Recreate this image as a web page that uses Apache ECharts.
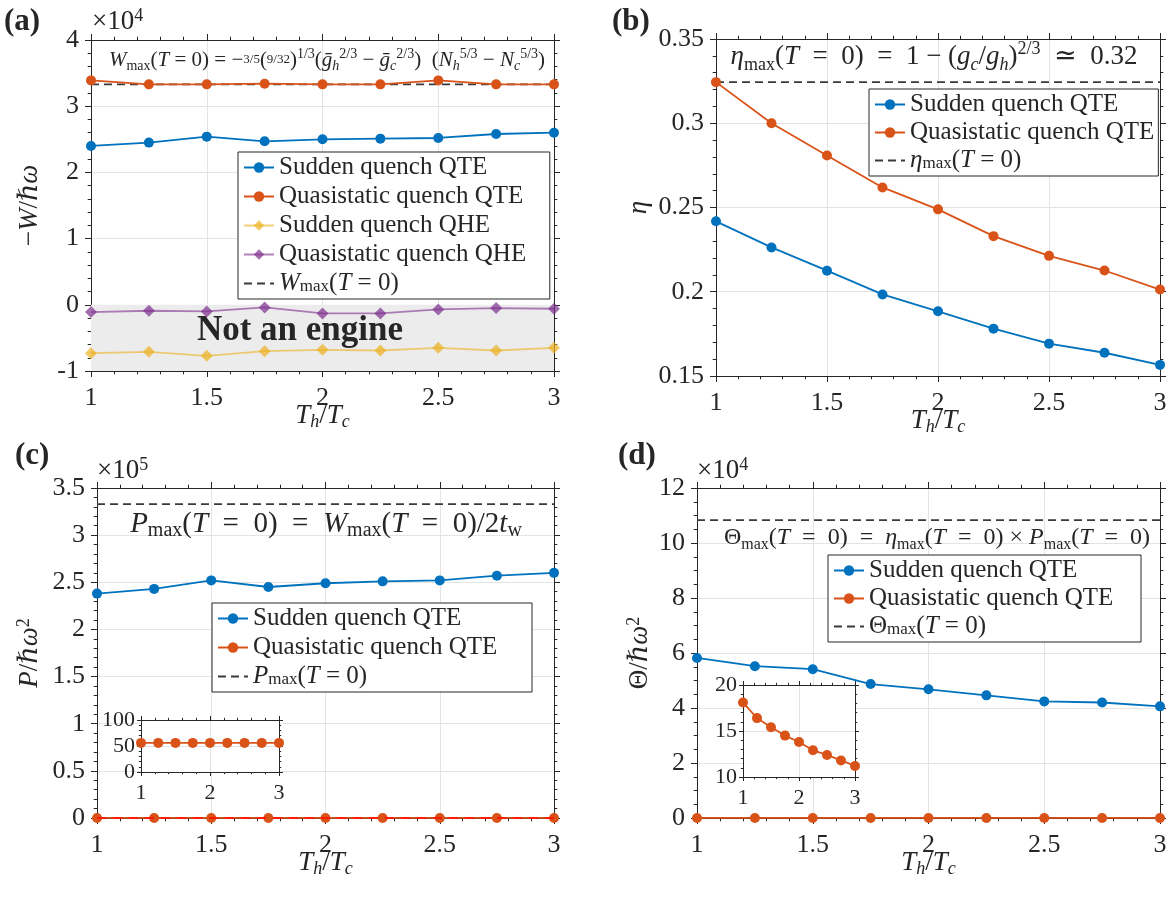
<!DOCTYPE html>
<html><head><meta charset="utf-8">
<script src="https://cdn.jsdelivr.net/npm/echarts@6/dist/echarts.min.js"></script>
<style>html,body{margin:0;padding:0;background:#fff}#c{width:1170px;height:898px}</style>
</head><body><div id="c"></div>
<script>
// ---------------- data ----------------
const xVals = [1, 1.25, 1.5, 1.75, 2, 2.25, 2.5, 2.75, 3];
// (a) -W / ħω  (units of 1e4)
const aSuddenQTE = [2.40, 2.45, 2.54, 2.47, 2.50, 2.51, 2.52, 2.58, 2.60];
const aQuasiQTE  = [3.39, 3.33, 3.33, 3.34, 3.33, 3.33, 3.39, 3.33, 3.33];
const aSuddenQHE = [-0.73, -0.71, -0.77, -0.70, -0.68, -0.69, -0.65, -0.69, -0.65];
const aQuasiQHE  = [-0.11, -0.09, -0.10, -0.04, -0.13, -0.13, -0.07, -0.05, -0.06];
const aWmax = 3.33;
const aEngineBand = [0, -1];
// (b) efficiency
const bSuddenQTE = [0.2418, 0.2263, 0.2125, 0.1984, 0.1884, 0.1781, 0.1692, 0.1638, 0.1566];
const bQuasiQTE  = [0.3244, 0.3000, 0.2809, 0.2619, 0.2489, 0.2330, 0.2213, 0.2126, 0.2013];
const bEtaMax = 0.3244;
// (c) power (main in units of 1e5, quasistatic given in absolute units)
const cSuddenQTE = [2.38, 2.43, 2.52, 2.45, 2.49, 2.51, 2.52, 2.57, 2.60];
const cQuasiQTE  = [56, 56, 56, 56, 56, 56, 56, 56, 56];
const cPmax = 3.33;
const cZeroRef = 0;
// (d) figure of merit (main in units of 1e4, quasistatic given in absolute units)
const dSuddenQTE = [5.82, 5.52, 5.41, 4.87, 4.68, 4.46, 4.24, 4.20, 4.06];
const dQuasiQTE  = [18.1, 16.4, 15.4, 14.5, 13.8, 12.9, 12.4, 11.8, 11.2];
const dThetaMax = 10.83;
// tick settings
const xTicks = {min: 1, max: 3, interval: 0.5};
const aTicks = {min: -1, max: 4, interval: 1};
const bTicks = {min: 0.15, max: 0.35, interval: 0.05};
const cTicks = {min: 0, max: 3.5, interval: 0.5};
const dTicks = {min: 0, max: 12, interval: 2};
const cInsetX = {min: 1, max: 3, interval: 1};
const cInsetY = {min: 0, max: 100, interval: 50};
const dInsetX = {min: 1, max: 3, interval: 1};
const dInsetY = {min: 10, max: 20, interval: 5};

// ---------------- style ----------------
const FONT = '"Liberation Serif", "DejaVu Serif", "Times New Roman", serif';
const AX = '#262626';
const GRIDC = '#e4e4e4';
const BLUE = '#0072BD', ORANGE = '#D95319', YELLOW = '#EDB120', PURPLE = '#7E2F8E';

function mkRich(F, L) {
  const S = Math.round(F * 0.68);
  return {
    n:  {fontSize: F, fontFamily: FONT, lineHeight: L, color: AX},
    i:  {fontSize: F, fontFamily: FONT, fontStyle: 'italic', lineHeight: L, color: AX},
    b:  {fontSize: F, fontFamily: FONT, fontWeight: 'bold', lineHeight: L, color: AX},
    s:  {fontSize: S, fontFamily: FONT, verticalAlign: 'bottom', color: AX},
    si: {fontSize: S, fontFamily: FONT, fontStyle: 'italic', verticalAlign: 'bottom', color: AX},
    p:  {fontSize: S, fontFamily: FONT, verticalAlign: 'top', color: AX},
    f:  {fontSize: Math.round(F * 0.62), fontFamily: FONT, color: AX}
  };
}

const pts = (arr, scale) => xVals.map((v, k) => [v, arr[k] * (scale || 1)]);
const hline = (val) => [[xVals[0], val], [xVals[xVals.length - 1], val]];

const xAxes = [], yAxes = [], grids = [];

function axis(o, isX, mirror) {
  const tick = o.tick || 6;
  return {
    type: 'value', gridIndex: o.g, min: o.min, max: o.max, interval: o.interval,
    position: isX ? (mirror ? 'top' : 'bottom') : (mirror ? 'right' : 'left'),
    z: o.z || 0,
    axisLine: {show: true, onZero: false, lineStyle: {color: AX, width: 1}},
    axisTick: {show: true, inside: false, length: tick, lineStyle: {color: AX, width: 1}},
    minorTick: {show: true, splitNumber: o.minor, length: tick * 0.55, lineStyle: {color: AX, width: 1}},
    splitLine: {show: !mirror, lineStyle: {color: GRIDC, width: 1}},
    minorSplitLine: {show: false},
    axisLabel: {show: !mirror, fontFamily: FONT, fontSize: o.fs, color: AX, margin: o.margin,
                showMinLabel: true, showMaxLabel: true},
    name: mirror ? '' : (o.name || ''),
    nameLocation: 'middle', nameGap: o.nameGap || 0, nameRotate: isX ? 0 : 90,
    nameMoveOverlap: false,
    nameTextStyle: {fontFamily: FONT, fontSize: o.nfs || 27, color: AX, rich: mkRich(o.nfs || 27, 30)}
  };
}
function panel(gridOpt, xo, yo) {
  const g = grids.length;
  grids.push(Object.assign({show: true, backgroundColor: '#fff', borderWidth: 0, containLabel: false}, gridOpt));
  xo.g = g; yo.g = g;
  xAxes.push(axis(xo, true, false), axis(xo, true, true));
  yAxes.push(axis(yo, false, false), axis(yo, false, true));
  return {xi: 2 * g, yi: 2 * g};
}

const TH = '{i|T}{si|h}{n|/}{i|T}{si|c}';
const XG = 30;
const A = panel({left: 91, top: 40, width: 463, height: 331},
  Object.assign({minor: 5, fs: 26, margin: 14, name: TH, nameGap: XG}, xTicks),
  Object.assign({minor: 5, fs: 26, margin: 12, name: '{n|−}{i|W}{n|/ℏ}{i|ω}', nameGap: 46}, aTicks));
const B = panel({left: 716, top: 39, width: 444, height: 337},
  Object.assign({minor: 5, fs: 26, margin: 14, name: TH, nameGap: XG}, xTicks),
  Object.assign({minor: 5, fs: 26, margin: 12, name: '{i|η}', nameGap: 62}, bTicks));
const C = panel({left: 97, top: 488, width: 457, height: 330},
  Object.assign({minor: 5, fs: 26, margin: 14, name: TH, nameGap: XG}, xTicks),
  Object.assign({minor: 5, fs: 26, margin: 12, name: '{i|P}{n|/ℏ}{i|ω}{p|2}', nameGap: 52}, cTicks));
const D = panel({left: 697, top: 488, width: 463, height: 330},
  Object.assign({minor: 5, fs: 26, margin: 14, name: TH, nameGap: XG}, xTicks),
  Object.assign({minor: 4, fs: 26, margin: 12, name: '{n|Θ/ℏ}{i|ω}{p|2}', nameGap: 42}, dTicks));
const CI = panel({left: 141, top: 720, width: 138, height: 52, z: 3},
  Object.assign({minor: 5, fs: 22, margin: 10, tick: 4, z: 3}, cInsetX),
  Object.assign({minor: 5, fs: 22, margin: 6, tick: 4, z: 3}, cInsetY));
const DI = panel({left: 743, top: 685, width: 112, height: 92, z: 3},
  Object.assign({minor: 5, fs: 22, margin: 10, tick: 4, z: 3}, dInsetX),
  Object.assign({minor: 5, fs: 22, margin: 6, tick: 4, z: 3}, dInsetY));

function lineSeries(name, P, data, color, extra) {
  return Object.assign({
    type: 'line', name: name, xAxisIndex: P.xi, yAxisIndex: P.yi, data: data,
    symbol: 'circle', symbolSize: 10, clip: false, animation: false,
    lineStyle: {color: color, width: 1.8}, itemStyle: {color: color}, z: 3
  }, extra || {});
}
function dashSeries(name, P, val) {
  return {type: 'line', name: name, xAxisIndex: P.xi, yAxisIndex: P.yi, data: hline(val),
    symbol: 'none', clip: false, animation: false, z: 2,
    lineStyle: {color: '#3a3a3a', width: 1.8, type: [8, 5]}, itemStyle: {color: '#3a3a3a'}};
}

const series = [
  // (a)
  {type: 'line', name: 'band', xAxisIndex: A.xi, yAxisIndex: A.yi, data: pts(aSuddenQHE),
   symbol: 'none', lineStyle: {width: 0, opacity: 0}, silent: true, z: 1, animation: false,
   markArea: {silent: true, itemStyle: {color: '#ececec', opacity: 1},
     data: [[{yAxis: aEngineBand[0]}, {yAxis: aEngineBand[1]}]]}},
  dashSeries('Wmax', A, aWmax),
  lineSeries('Sudden quench QTE', A, pts(aSuddenQTE), BLUE),
  lineSeries('Quasistatic quench QTE', A, pts(aQuasiQTE), ORANGE),
  lineSeries('Sudden quench QHE', A, pts(aSuddenQHE), YELLOW,
    {symbol: 'diamond', symbolSize: 12, lineStyle: {color: YELLOW, width: 1.8, opacity: 0.6}, itemStyle: {color: YELLOW, opacity: 0.7}}),
  lineSeries('Quasistatic quench QHE', A, pts(aQuasiQHE), PURPLE,
    {symbol: 'diamond', symbolSize: 12, lineStyle: {color: PURPLE, width: 1.8, opacity: 0.6}, itemStyle: {color: PURPLE, opacity: 0.7}}),
  // (b)
  dashSeries('etamax', B, bEtaMax),
  lineSeries('Sudden quench QTE', B, pts(bSuddenQTE), BLUE),
  lineSeries('Quasistatic quench QTE', B, pts(bQuasiQTE), ORANGE),
  // (c)
  dashSeries('Pmax', C, cPmax),
  lineSeries('Sudden quench QTE', C, pts(cSuddenQTE), BLUE),
  lineSeries('Quasistatic quench QTE', C, pts(cQuasiQTE, 1e-5), ORANGE),
  {type: 'line', name: 'zero', xAxisIndex: C.xi, yAxisIndex: C.yi, data: hline(cZeroRef),
   symbol: 'none', clip: false, animation: false, z: 4,
   lineStyle: {color: '#ff1a00', width: 2, type: [9, 7]}},
  lineSeries('Quasistatic quench QTE', CI, pts(cQuasiQTE), ORANGE, {z: 5}),
  // (d)
  dashSeries('Thetamax', D, dThetaMax),
  lineSeries('Sudden quench QTE', D, pts(dSuddenQTE), BLUE),
  lineSeries('Quasistatic quench QTE', D, pts(dQuasiQTE, 1e-4), ORANGE),
  lineSeries('Quasistatic quench QTE', DI, pts(dQuasiQTE), ORANGE, {z: 5})
];

const LF = 25, LL = 24;
const legendNames = {
  'Wmax': '{i|W}{s|max}{n|(}{i|T}{n| = 0)}',
  'etamax': '{i|η}{s|max}{n|(}{i|T}{n| = 0)}',
  'Pmax': '{i|P}{s|max}{n|(}{i|T}{n| = 0)}',
  'Thetamax': '{n|Θ}{s|max}{n|(}{i|T}{n| = 0)}'
};
const measureCtx = document.createElement('canvas').getContext('2d');
function textWidth(s, F) { measureCtx.font = F + 'px ' + FONT; return measureCtx.measureText(s).width; }
function legend(left, top, data, gap, boxW) {
  const padL = 5, iconW = 30;
  const tw = textWidth('Quasistatic quench QTE', LF);
  const padR = Math.max(4, boxW - padL - iconW - 5 - tw);
  return {
    show: true, orient: 'vertical', left: left, top: top,
    data: data.map(n => legendNames[n] ? {name: n, itemStyle: {opacity: 0}} : n),
    itemGap: gap, itemWidth: iconW, itemHeight: 13, padding: [3, padR, 3, padL],
    borderColor: AX, borderWidth: 1, backgroundColor: '#fff', z: 10,
    selectedMode: false,
    formatter: (n) => legendNames[n] || ('{n|' + n + '}'),
    textStyle: {fontFamily: FONT, fontSize: LF, lineHeight: LL, color: AX, rich: mkRich(LF, LL)}
  };
}
const QTE = ['Sudden quench QTE', 'Quasistatic quench QTE'];

function txt(x, y, text, F, L, align, extra) {
  return Object.assign({type: 'text', x: x, y: y, z: 100,
    style: {text: text, fontFamily: FONT, fontSize: F, fill: AX, align: align || 'center',
      verticalAlign: 'middle', rich: mkRich(F, L)}}, extra || {});
}

const graphics = [
  txt(4, 22, '{b|(a)}', 31, 34, 'left'),
  txt(612, 22, '{b|(b)}', 31, 34, 'left'),
  txt(15, 456, '{b|(c)}', 31, 34, 'left'),
  txt(618, 456, '{b|(d)}', 31, 34, 'left'),
  txt(92, 22, '{n|×10}{p|4}', 27, 30, 'left'),
  txt(97, 471, '{n|×10}{p|5}', 27, 30, 'left'),
  txt(697, 471, '{n|×10}{p|4}', 27, 30, 'left'),
  txt(300, 331, '{b|Not an engine}', 35, 38, 'center'),
  txt(327, 60, '{i|W}{s|max}{n|(}{i|T}{n| = 0) = −}{f|3/5}{n|(}{f|9/32}{n|)}{p|1/3}{n|(}{i|g\u0304}{si|h}{p|2/3}{n| − }{i|g\u0304}{si|c}{p|2/3}{n|)  (}{i|N}{si|h}{p|5/3}{n| − }{i|N}{si|c}{p|5/3}{n|)}', 21, 26, 'center'),
  txt(934, 57, '{i|η}{s|max}{n|(}{i|T}{n|  =  0)  =  1 − (}{i|g}{si|c}{n|/}{i|g}{si|h}{n|)}{p|2/3}{n|  ≃  0.32}', 27, 34, 'center'),
  txt(326, 524, '{i|P}{s|max}{n|(}{i|T}{n|  =  0)  =  }{i|W}{s|max}{n|(}{i|T}{n|  =  0)/2}{i|t}{s|w}', 29, 34, 'center'),
  txt(937, 538, '{n|Θ}{s|max}{n|(}{i|T}{n|  =  0)  =  }{i|η}{s|max}{n|(}{i|T}{n|  =  0) × }{i|P}{s|max}{n|(}{i|T}{n|  =  0)}', 24, 30, 'center')
];

const chart = echarts.init(document.getElementById('c'), null, {renderer: 'canvas'});
chart.setOption({
  animation: false,
  backgroundColor: '#fff',
  grid: grids,
  xAxis: xAxes,
  yAxis: yAxes,
  legend: [
    legend(238, 152, QTE.concat(['Sudden quench QHE', 'Quasistatic quench QHE', 'Wmax']), 4, 308),
    legend(869, 89, QTE.concat(['etamax']), 3, 285),
    legend(212, 603, QTE.concat(['Pmax']), 4, 319),
    legend(828, 555, QTE.concat(['Thetamax']), 3, 312)
  ],
  series: series,
  graphic: graphics
});
</script>
</body></html>
